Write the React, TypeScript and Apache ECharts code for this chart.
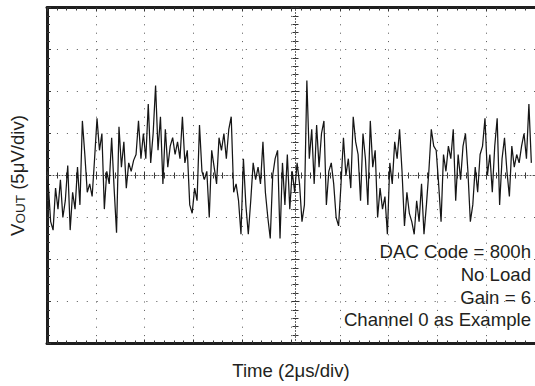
import React, { useEffect, useRef } from "react";
import * as echarts from "echarts";

// Axis scales (value units): time in µs, VOUT in µV
const X_MIN_US = 0;
const X_MAX_US = 20;
const X_DIV_US = 2;
const Y_MIN_UV = -20;
const Y_MAX_UV = 20;
const Y_DIV_UV = 5;

// Sample timing of the scope trace
const SAMPLE_START_US = 0.05;
const SAMPLE_STEP_US = 0.1;

// VOUT noise trace (µV), in three stretches of time
const voutFirst = [
  -1.0, -5.5, -6.5, -1.5, -4.0, -0.5, -5.0, -3.0, 1.2, -6.5,
  -2.0, -4.0, 1.0, -3.5, 6.5, 2.5, -2.0, -1.0, -2.5, 2.0,
  6.8, 3.0, 5.0, -4.0, 0.5, -1.0, 4.5, -1.5, -6.8, 5.8,
  1.0, 4.0, -1.5, 1.5, 0.5, 1.8, 2.5, 6.5, 2.0, 5.0,
  2.0, 8.5, 1.5, 5.0, 10.7, 3.0, 7.0, -1.0, 5.5, 1.0,
  3.5, 4.5, 2.5, 4.0, 2.0, 7.0, 1.5, 3.0, -3.5, -4.5,
  -1.5, -3.0, 6.0, 0.5, -0.5, 0.5, -5.0,
];
const voutMiddle = [
  3.0, 1.0, -1.0, 4.5, 3.0, 5.0, 2.0, 5.5, 7.0, -2.0,
  -1.0, -3.0, -7.0, 2.0, -3.5, -7.0, -3.0, 1.5, -0.5, 1.0,
  -1.0, 4.0, -2.0, -5.0, -7.5, 0.0, 2.0, 3.0, -7.5, 1.5,
  -3.5, 2.5, -4.0, 0.5, -2.0, 1.5, -1.0, -5.5, -3.5, 11.3,
  2.0, 5.5, -1.0, 6.0, 1.0, 5.0, 6.5, -3.5, 0.5, 1.5,
  -1.0, -5.0, -6.0, -1.0, 4.5, 0.0, 2.0, -1.5, 7.0, 4.0,
  2.5, -3.0, 5.0, 2.0, -3.5, 6.5,
];
const voutLast = [
  1.0, 3.0, -5.0, -1.5, -4.0, -2.5, -7.0, 1.5, -1.0, 4.0,
  2.0, 5.5, 0.5, -6.0, -2.0, -4.5, -5.5, -7.0, -3.0, -5.5,
  -1.0, -7.0, -3.5, 0.5, 5.5, 3.5, 3.0, -1.0, -5.5, 2.5,
  0.5, 3.5, 2.0, 5.5, -3.0, 2.5, -0.5, 3.5, 5.0, 0.5,
  -5.5, -3.5, 1.0, -2.0, 2.5, 3.5, 6.8, 0.0, 2.5, -2.0,
  3.5, 6.8, -3.5, 2.0, 4.5, 0.5, -2.5, 3.5, 1.0, 2.5,
  1.5, 3.5, 5.0, 2.0, 8.5, 1.5,
];

const annotationLines = ["DAC Code = 800h", "No Load", "Gain = 6", "Channel 0 as Example"];
const xAxisTitle = "Time (2μs/div)";
const yAxisTitleV = "V";
const yAxisTitleSub = "OUT";
const yAxisTitleRest = " (5μV/div)";

const FONT = "'Liberation Sans', Arial, Helvetica, sans-serif";
const INK = "#231f20";
const TEXT_SIZE = 18.6;

export default function App() {
  const ref = useRef<HTMLDivElement>(null);

  useEffect(() => {
    if (!ref.current) return;
    const chart = echarts.init(ref.current, null, { renderer: "svg" });

    const vout = [...voutFirst, ...voutMiddle, ...voutLast];
    const trace = vout.map((v, i) => [SAMPLE_START_US + i * SAMPLE_STEP_US, v]);

    const gridLeft = 42.5;
    const gridTop = 7.5;
    const gridWidth = 497;
    const gridHeight = 336;

    const baseX = {
      type: "value" as const,
      min: X_MIN_US,
      max: X_MAX_US,
      interval: X_DIV_US,
      axisLabel: { show: false },
      splitLine: { show: false },
    };
    const baseY = {
      type: "value" as const,
      min: Y_MIN_UV,
      max: Y_MAX_UV,
      interval: Y_DIV_UV,
      axisLabel: { show: false },
      splitLine: { show: false },
    };
    const tickStyle = { color: "#333", width: 1 };
    const borderLine = { show: true, onZero: false, lineStyle: { color: "#1e1e1e", width: 3 } };
    const centerLine = { show: true, onZero: false, lineStyle: { color: "#555", width: 1, type: [1, 2] as any } };

    const annotationMid = [251, 274.5, 297, 319];

    chart.setOption({
      animation: false,
      backgroundColor: "#ffffff",
      grid: { left: gridLeft, top: gridTop, width: gridWidth, height: gridHeight, containLabel: false },
      xAxis: [
        {
          ...baseX,
          position: "bottom",
          axisLine: borderLine,
          axisTick: { show: true, inside: true, length: 4, lineStyle: tickStyle },
          minorTick: { show: true, splitNumber: 5, length: 3, lineStyle: tickStyle },
          splitLine: { show: true, lineStyle: { color: "#555", width: 1, type: [1, 7.4] } },
          name: xAxisTitle,
          nameLocation: "middle",
          nameGap: 17,
          nameTextStyle: { fontFamily: FONT, fontSize: TEXT_SIZE, color: INK },
        },
        {
          ...baseX,
          position: "top",
          axisLine: borderLine,
          axisTick: { show: true, inside: true, length: 4, lineStyle: tickStyle },
          minorTick: { show: true, splitNumber: 5, length: 3, lineStyle: tickStyle },
        },
        {
          ...baseX,
          position: "bottom",
          offset: -gridHeight / 2,
          axisLine: centerLine,
          axisTick: { show: true, inside: true, length: 4, lineStyle: tickStyle },
          minorTick: { show: true, splitNumber: 5, length: 3, lineStyle: tickStyle },
        },
        {
          ...baseX,
          position: "bottom",
          offset: -gridHeight / 2,
          axisLine: { show: false },
          axisTick: { show: true, inside: false, length: 4, lineStyle: tickStyle },
          minorTick: { show: true, splitNumber: 5, length: 3, lineStyle: tickStyle },
        },
      ],
      yAxis: [
        {
          ...baseY,
          position: "left",
          axisLine: borderLine,
          axisTick: { show: true, inside: true, length: 4, lineStyle: tickStyle },
          minorTick: { show: true, splitNumber: 5, length: 3, lineStyle: tickStyle },
          splitLine: { show: true, lineStyle: { color: "#555", width: 1, type: [1, 8.94] } },
          name: `{v|${yAxisTitleV}}{s|${yAxisTitleSub}}{v|${yAxisTitleRest}}`,
          nameLocation: "middle",
          nameGap: 20,
          nameTextStyle: {
            fontFamily: FONT,
            fontSize: TEXT_SIZE,
            color: INK,
            rich: {
              v: { fontFamily: FONT, fontSize: TEXT_SIZE, color: INK, lineHeight: 24, verticalAlign: "bottom" },
              s: { fontFamily: FONT, fontSize: 13.5, color: INK, lineHeight: 14, verticalAlign: "bottom" },
            },
          },
        },
        {
          ...baseY,
          position: "left",
          offset: -gridWidth / 2,
          axisLine: centerLine,
          axisTick: { show: true, inside: true, length: 4, lineStyle: tickStyle },
          minorTick: { show: true, splitNumber: 5, length: 3, lineStyle: tickStyle },
        },
        {
          ...baseY,
          position: "left",
          offset: -gridWidth / 2,
          axisLine: { show: false },
          axisTick: { show: true, inside: false, length: 4, lineStyle: tickStyle },
          minorTick: { show: true, splitNumber: 5, length: 3, lineStyle: tickStyle },
        },
      ],
      series: [
        {
          type: "line",
          xAxisIndex: 0,
          yAxisIndex: 0,
          data: trace,
          showSymbol: false,
          symbol: "none",
          lineStyle: { color: "#161616", width: 1.25 },
          z: 5,
        },
      ],
      graphic: annotationLines.map((t, i) => ({
        type: "text",
        x: 531,
        y: annotationMid[i],
        z: 10,
        style: {
          text: t,
          fontFamily: FONT,
          fontSize: TEXT_SIZE,
          fill: INK,
          align: "right",
          verticalAlign: "middle",
        },
      })),
    });

    return () => chart.dispose();
  }, []);

  return (
    <div
      ref={ref}
      style={{ position: "fixed", left: 0, top: 0, width: 535, height: 386, background: "#fff" }}
    />
  );
}
